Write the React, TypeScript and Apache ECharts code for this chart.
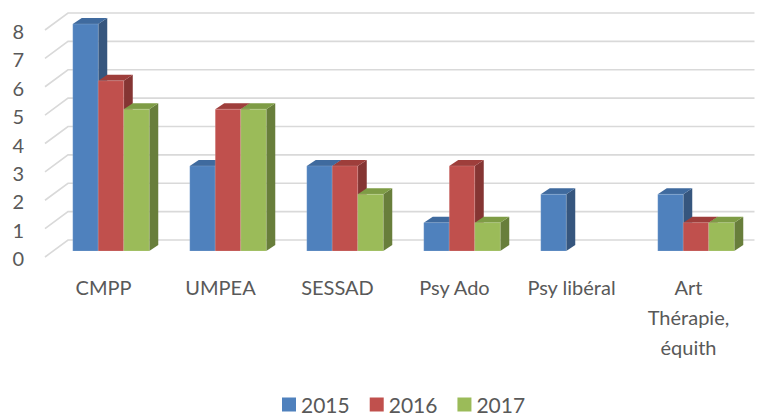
import React, { useEffect, useRef } from "react";
import * as echarts from "echarts";

const categories = ["CMPP", "UMPEA", "SESSAD", "Psy Ado", "Psy libéral", "Art\nThérapie,\néquith"];
const years = ["2015", "2016", "2017"];
const values2015 = [8, 3, 3, 1, 2, 2];
const values2016 = [6, 5, 3, 3, 0, 1];
const values2017 = [5, 5, 2, 1, 0, 1];
const yTicks = [0, 1, 2, 3, 4, 5, 6, 7, 8];

const frontColors = ["#4F81BD", "#C0504D", "#9BBB59"];
const sideColors = ["#36567E", "#853533", "#687E3B"];
const topColors = ["#3F6A9E", "#9E3E3B", "#7E9C45"];

const FONT = "Lato, 'Open Sans', sans-serif";

export default function App() {
  const ref = useRef<HTMLDivElement>(null);
  useEffect(() => {
    document.body.style.margin = "0";
    const chart = echarts.init(ref.current!, undefined, { renderer: "svg" });
    const seriesValues = [values2015, values2016, values2017];
    const dx = 9;
    const dy = -6;

    const barSeries = years.map((name, idx) => ({
      name,
      type: "custom" as const,
      clip: false,
      itemStyle: { color: frontColors[idx] },
      encode: { x: 0, y: 1 },
      data: seriesValues[idx].map((v, i) => [i, v]),
      z: 3,
      renderItem: (params: any, api: any) => {
        const cat = api.value(0);
        const val = api.value(1);
        if (!val) return null;
        const band = api.size([1, 0])[0];
        const w = band * 0.218;
        const base = api.coord([cat, 0]);
        const topY = api.coord([cat, val])[1];
        const x0 = base[0] - 1.5 * w + idx * w;
        const baseY = base[1];
        return {
          type: "group",
          children: [
            {
              type: "polygon",
              shape: {
                points: [
                  [x0 + w, topY],
                  [x0 + w + dx, topY + dy],
                  [x0 + w + dx, baseY + dy],
                  [x0 + w, baseY],
                ],
              },
              style: { fill: sideColors[idx] },
            },
            {
              type: "polygon",
              shape: {
                points: [
                  [x0, topY],
                  [x0 + dx, topY + dy],
                  [x0 + w + dx, topY + dy],
                  [x0 + w, topY],
                ],
              },
              style: { fill: topColors[idx] },
            },
            {
              type: "rect",
              shape: { x: x0, y: topY, width: w, height: baseY - topY },
              style: { fill: frontColors[idx], stroke: "rgba(255,255,255,0.25)", lineWidth: 0.6 },
            },
          ],
        };
      },
    }));

    const gridSeries = {
      name: "grid",
      type: "custom" as const,
      clip: false,
      silent: true,
      z: 1,
      encode: { x: 0, y: 1 },
      data: yTicks.map((v) => [0, v]),
      renderItem: (params: any, api: any) => {
        const cs = params.coordSys;
        const y = api.coord([0, api.value(1)])[1];
        return {
          type: "polyline",
          shape: {
            points: [
              [cs.x - 7.5, y + 6],
              [cs.x + 15.5, y - 11],
              [cs.x + cs.width, y - 11],
            ],
          },
          style: { stroke: "#D9D9D9", lineWidth: 1.6, fill: "none" },
        };
      },
    };

    chart.setOption({
      animation: false,
      backgroundColor: "#ffffff",
      textStyle: { fontFamily: FONT },
      grid: { left: 52.5, right: 5.5, top: 24, bottom: 165, containLabel: false },
      legend: {
        data: years,
        left: 277,
        top: 389,
        icon: "rect",
        itemWidth: 14,
        itemHeight: 14,
        itemGap: 20,
        textStyle: { fontSize: 21, color: "#595959", fontFamily: FONT },
      },
      xAxis: {
        type: "category",
        data: categories,
        axisLine: { show: false },
        axisTick: { show: false },
        axisLabel: {
          interval: 0,
          fontSize: 20,
          color: "#595959",
          fontFamily: FONT,
          margin: 21,
          lineHeight: 30,
          padding: [0, 15, 0, 0],
        },
        splitLine: { show: false },
      },
      yAxis: {
        type: "value",
        min: 0,
        max: 8,
        interval: 1,
        axisLine: { show: false },
        axisTick: { show: false },
        splitLine: { show: false },
        axisLabel: {
          fontSize: 20,
          color: "#595959",
          fontFamily: FONT,
          margin: 28.5,
          verticalAlign: "top",
          lineHeight: 14,
        },
      },
      series: [gridSeries, ...barSeries],
    });
    return () => chart.dispose();
  }, []);
  return <div ref={ref} style={{ width: 760, height: 416 }} />;
}
